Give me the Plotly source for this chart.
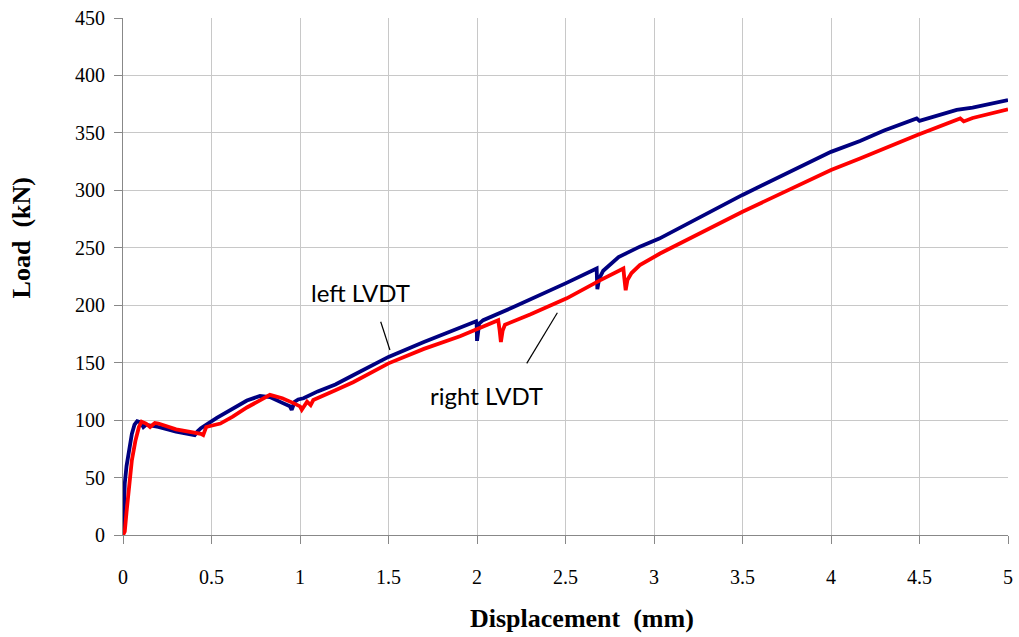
import plotly.graph_objects as go

# Left LVDT (navy)
left_x = [0.0, 0.005, 0.01, 0.02, 0.035, 0.05, 0.065, 0.08, 0.1, 0.115, 0.13, 0.2, 0.3, 0.405,
          0.42, 0.44, 0.53, 0.62, 0.7, 0.774, 0.83, 0.9, 0.943, 0.953, 0.97, 0.99, 1.02, 1.1,
          1.2, 1.3, 1.5, 1.7, 1.9, 1.995, 1.998, 2.0, 2.005, 2.012, 2.035, 2.2, 2.5, 2.676,
          2.678, 2.68, 2.69, 2.713, 2.8, 2.92, 3.03, 3.5, 4.0, 4.164, 4.3, 4.484, 4.5, 4.6,
          4.71, 4.8, 5.0]
left_y = [0, 20, 45, 60, 75, 88, 96, 99, 98, 94, 96, 94, 90, 87,
          90, 93, 102, 110, 117, 121, 120, 115, 112, 109, 116, 118, 119, 125,
          131, 139, 155, 168, 180, 186, 184, 169, 175, 184, 187, 198, 219, 232,
          222, 214, 223, 230, 242, 251, 258, 296, 333.5, 343, 352, 362.6, 360.5, 365,
          370, 372, 378.6]

# Right LVDT (red)
right_x = [0.0, 0.01, 0.02, 0.035, 0.05, 0.07, 0.09, 0.105, 0.13, 0.153, 0.18, 0.2, 0.3, 0.44,
           0.453, 0.47, 0.55, 0.62, 0.7, 0.83, 0.9, 0.96, 1.0, 1.01, 1.04, 1.06, 1.075, 1.2,
           1.3, 1.5, 1.7, 1.904, 2.0, 2.12, 2.128, 2.135, 2.145, 2.158, 2.3, 2.507, 2.7,
           2.827, 2.832, 2.84, 2.85, 2.873, 2.92, 3.034, 3.5, 4.0, 4.164, 4.484, 4.73, 4.75,
           4.8, 5.0]
right_y = [0, 3, 20, 45, 65, 82, 94, 98.6, 97, 94, 97.5, 97, 92, 88,
           87, 94, 97, 103, 111, 122, 119, 115, 112, 109, 116, 113, 117.5, 126,
           133, 149.4, 162, 173, 179, 187, 178, 168, 178, 183, 192, 206, 222,
           232, 224, 213, 222, 228, 235, 245, 281.4, 317.7, 327.8, 348, 362.6, 360,
           363, 370.5]

x_ticks = [0, 0.5, 1, 1.5, 2, 2.5, 3, 3.5, 4, 4.5, 5]
x_ticktext = ["0", "0.5", "1", "1.5", "2", "2.5", "3", "3.5", "4", "4.5", "5"]
y_ticks = [0, 50, 100, 150, 200, 250, 300, 350, 400, 450]

fig = go.Figure()
fig.add_trace(go.Scatter(x=left_x, y=left_y, mode="lines", name="left LVDT",
                         line=dict(color="#000080", width=3.8)))
fig.add_trace(go.Scatter(x=right_x, y=right_y, mode="lines", name="right LVDT",
                         line=dict(color="#FF0000", width=3.8)))

ann_font = dict(family="Lato, Open Sans, sans-serif", size=24, color="#000000")
fig.add_annotation(x=1.342, y=211, text="left LVDT", showarrow=False, font=ann_font)
fig.add_annotation(x=2.055, y=121, text="right LVDT", showarrow=False, font=ann_font)
fig.add_shape(type="line", x0=1.456, y0=185.6, x1=1.508, y1=161,
              line=dict(color="#000000", width=1.2))
fig.add_shape(type="line", x0=2.454, y0=193.5, x1=2.281, y1=149.4,
              line=dict(color="#000000", width=1.2))

tick_font = dict(family="Liberation Serif, Times New Roman, serif", size=20, color="#000000")
title_font = dict(family="Liberation Serif, Times New Roman, serif", size=26, color="#000000")

# Axis titles placed as paper-anchored annotations
fig.add_annotation(xref="paper", yref="paper", x=0.519, y=-0.161, yanchor="middle",
                   text="<b>Displacement  (mm)</b>", showarrow=False, font=title_font)
fig.add_annotation(xref="paper", yref="paper", x=-0.1145, y=0.575, xanchor="center",
                   yanchor="middle", textangle=-90,
                   text="<b>Load  (kN)</b>", showarrow=False, font=title_font)

fig.update_layout(
    width=1019, height=637,
    margin=dict(l=123, r=11, t=18, b=102, autoexpand=False),
    paper_bgcolor="white", plot_bgcolor="white",
    showlegend=False,
    xaxis=dict(range=[0, 5], tickvals=x_ticks, ticktext=x_ticktext,
               showgrid=True, gridcolor="#c8c8c8", gridwidth=1,
               showline=True, linecolor="#888888", linewidth=1,
               ticks="outside", ticklen=8, tickcolor="#888888",
               ticklabelstandoff=16, tickfont=tick_font,
               automargin=False, zeroline=False),
    yaxis=dict(range=[0, 450], tickvals=y_ticks,
               showgrid=True, gridcolor="#c8c8c8", gridwidth=1,
               showline=True, linecolor="#888888", linewidth=1,
               ticks="outside", ticklen=8, tickcolor="#888888",
               ticklabelstandoff=5, tickfont=tick_font,
               automargin=False, zeroline=False),
)

fig.write_html("out.html", config={"displayModeBar": False},
               post_script="document.body.style.margin='0';document.body.style.overflow='hidden';")
